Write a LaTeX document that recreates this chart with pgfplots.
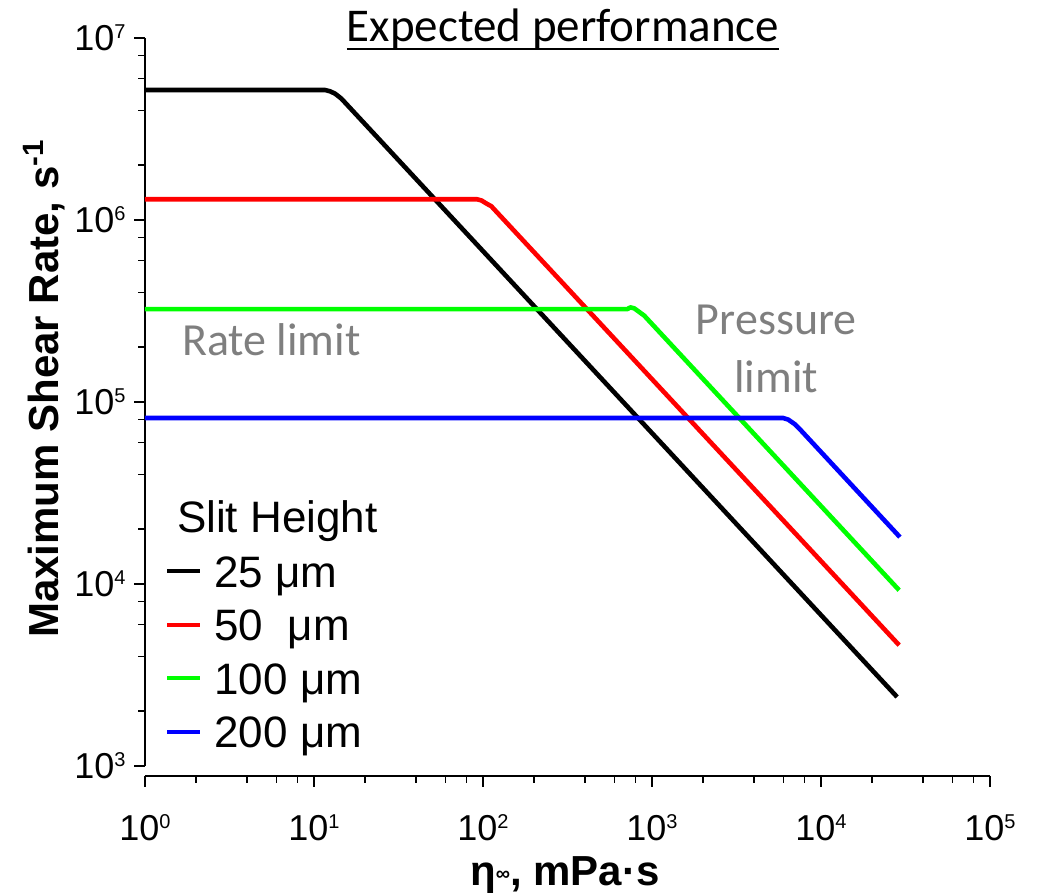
\documentclass[border=0pt]{standalone}
\usepackage{fontspec}
\setmainfont{Liberation Sans}
\newfontfamily\carlito{Carlito}
\usepackage{pgfplots}
\pgfplotsset{compat=1.18}
\definecolor{annot}{RGB}{127,127,127}
\definecolor{cred}{RGB}{255,0,0}
\definecolor{cgreen}{RGB}{0,255,0}
\definecolor{cblue}{RGB}{0,0,255}
\newcommand\ulbox[1]{\setbox0\hbox{#1}\rlap{\rule[-4pt]{\wd0}{1pt}}\box0}
\begin{document}
\begin{tikzpicture}
\useasboundingbox (-72.5pt,-58.5pt) rectangle (446.5pt,388pt);
\begin{axis}[
  at={(0,0)}, anchor=south west,
  scale only axis, width=422.5pt, height=369pt,
  xmode=log, ymode=log,
  xmin=1, xmax=1e5, ymin=881, ymax=1e7,
  clip=false,
  axis x line*=bottom, axis y line*=left,
  axis line style={-, line width=1pt},
  y axis line style={draw=none},
  xtick={1,10,100,1000,10000,100000},
  ytick={1000,10000,100000,1000000,10000000},
  xticklabels={{\fontsize{18}{18}\selectfont 10\raisebox{6.2pt}{\fontsize{10}{10}\selectfont 0}},
               {\fontsize{18}{18}\selectfont 10\raisebox{6.2pt}{\fontsize{10}{10}\selectfont 1}},
               {\fontsize{18}{18}\selectfont 10\raisebox{6.2pt}{\fontsize{10}{10}\selectfont 2}},
               {\fontsize{18}{18}\selectfont 10\raisebox{6.2pt}{\fontsize{10}{10}\selectfont 3}},
               {\fontsize{18}{18}\selectfont 10\raisebox{6.2pt}{\fontsize{10}{10}\selectfont 4}},
               {\fontsize{18}{18}\selectfont 10\raisebox{6.2pt}{\fontsize{10}{10}\selectfont 5}}},
  yticklabels={{\fontsize{18}{18}\selectfont 10\raisebox{6.2pt}{\fontsize{10}{10}\selectfont 3}},
               {\fontsize{18}{18}\selectfont 10\raisebox{6.2pt}{\fontsize{10}{10}\selectfont 4}},
               {\fontsize{18}{18}\selectfont 10\raisebox{6.2pt}{\fontsize{10}{10}\selectfont 5}},
               {\fontsize{18}{18}\selectfont 10\raisebox{6.2pt}{\fontsize{10}{10}\selectfont 6}},
               {\fontsize{18}{18}\selectfont 10\raisebox{6.2pt}{\fontsize{10}{10}\selectfont 7}}},
  /pgf/number format/assume math mode=true,
  minor xtick={2,4,6,8,20,40,60,80,200,400,600,800,2000,4000,6000,8000,20000,40000,60000,80000},
  minor ytick={2000,4000,6000,8000,20000,40000,60000,80000,200000,400000,600000,800000,2000000,4000000,6000000,8000000},
  tick align=outside,
  major tick length=5.5pt, minor tick length=3.5pt,
  every tick/.style={black, line width=0.8pt},
  every y tick label/.append style={anchor=east, inner sep=0pt, xshift=-4pt, font=\fontsize{18}{18}\selectfont},
  every x tick label/.append style={anchor=north, inner sep=0pt, yshift=-8.5pt, font=\fontsize{18}{18}\selectfont},
  xticklabel shift=5pt,
  legend cell align=left,
  legend image code/.code={\draw[#1, line width=2pt] (0pt,2.5pt) -- (16.5pt,2.5pt);},
  legend style={at={(axis description cs:0.0237,0.2995)}, anchor=north west,
    draw=none, fill=none, inner sep=0pt, column sep=6pt, row sep=5.75pt,
    font=\fontsize{22}{26}\selectfont,
    nodes={inner sep=0pt, text height=16pt, text depth=5pt}},
]
\draw[line width=1pt] (axis cs:1,1000) -- (axis cs:1,1e7);

\addplot[black, line width=2.3pt, line join=round] coordinates {
 (1,5.18e6) (11.6,5.18e6) (12.4,5.1e6) (13.3,4.95e6) (14.5,4.65e6) (28200,2394)};
\addlegendentry{25 μm}
\addplot[cred, line width=2.3pt, line join=round] coordinates {
 (1,1.30e6) (92,1.30e6) (98,1.28e6) (105,1.23e6) (112,1.19e6) (29000,4610)};
\addlegendentry{50~~μm}
\addplot[cgreen, line width=2.3pt, line join=round] coordinates {
 (1,3.24e5) (715,3.24e5) (745,3.31e5) (785,3.27e5) (830,3.15e5) (900,2.98e5) (29000,9240)};
\addlegendentry{100 μm}
\addplot[cblue, line width=2.3pt, line join=round] coordinates {
 (1,8.17e4) (5950,8.17e4) (6400,8.0e4) (7000,7.55e4) (7600,6.99e4) (29300,1.81e4)};
\addlegendentry{200 μm}

\node[anchor=base, font=\carlito\fontsize{23.5}{23.5}\selectfont] at (axis description cs:0.4947,0.9946) {\ulbox{Expected performance}};
\node[anchor=base west, font=\fontsize{22}{22}\selectfont] at (axis description cs:0.0296,0.3306) {Slit Height};
\node[anchor=base west, text=annot, font=\carlito\fontsize{23}{23}\selectfont] at (axis description cs:0.0355,0.570) {Rate limit};
\node[anchor=base, text=annot, font=\carlito\fontsize{23}{23}\selectfont] at (axis description cs:0.747,0.5976) {Pressure};
\node[anchor=base, text=annot, font=\carlito\fontsize{23}{23}\selectfont] at (axis description cs:0.747,0.5203) {limit};
\node[anchor=center, rotate=90, font=\bfseries\fontsize{21}{21}\selectfont] at (axis description cs:-0.1195,0.525) {Maximum Shear Rate, s\textsuperscript{-1}};
\node[anchor=base, font=\bfseries\fontsize{21}{21}\selectfont] at (axis description cs:0.497,-0.1477) {η\raisebox{0.1em}{\fontsize{10}{10}\selectfont ∞}, mPa·s};
\end{axis}
\end{tikzpicture}
\end{document}
